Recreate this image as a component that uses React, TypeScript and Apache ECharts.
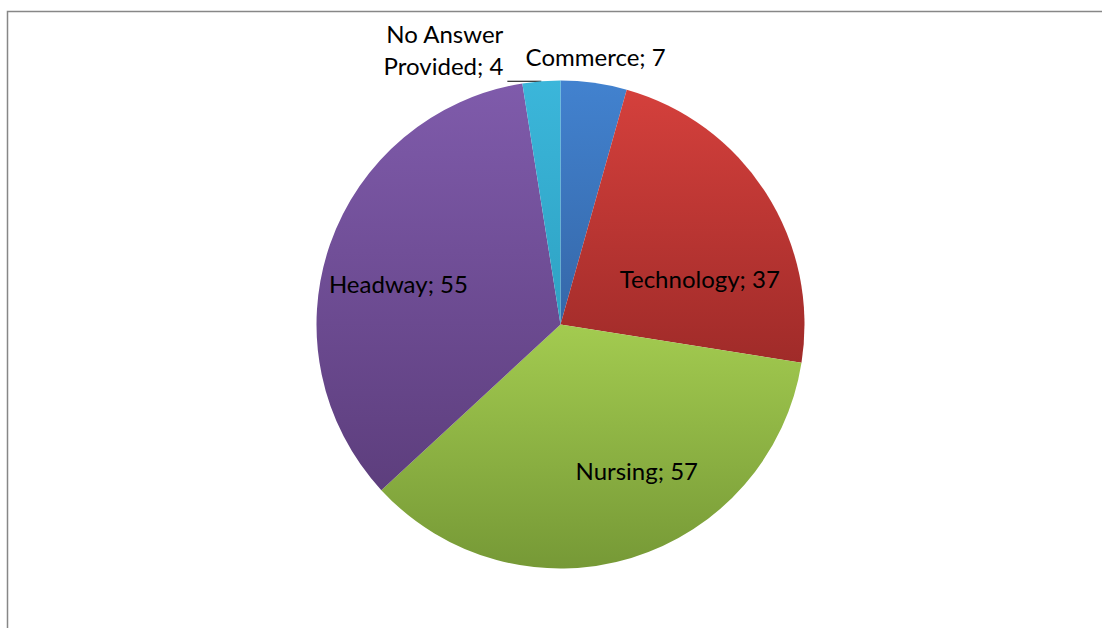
import React, { useEffect, useRef } from "react";
import * as echarts from "echarts";

const categories = ["Commerce", "Technology", "Nursing", "Headway", "No Answer Provided"];
const values = [7, 37, 57, 55, 4];
const topColors = ["#4282cf", "#d4403c", "#a3cb50", "#7f5bab", "#3bb6da"];
const bottomColors = ["#3567a8", "#a02b29", "#769936", "#5d3e7d", "#2ea2c3"];
const labelOffsets: [number, number][] = [[18, -144], [34, 21], [40, 26], [-44, 0], [0, 0]];

export default function App() {
  const ref = useRef<HTMLDivElement>(null);
  useEffect(() => {
    if (!ref.current) return;
    const chart = echarts.init(ref.current, undefined, { renderer: "svg" });
    const font = "Lato";
    const data = categories.map((name, i) => {
      const grad = new echarts.graphic.LinearGradient(0, 0, 0, 1, [
        { offset: 0, color: topColors[i] },
        { offset: 1, color: bottomColors[i] },
      ]);
      const isOutside = i === 4;
      return {
        name,
        value: values[i],
        itemStyle: { color: grad },
        label: isOutside
          ? {
              position: "outside",
              formatter: "No Answer\nProvided; {c}",
              align: "center",
              lineHeight: 32,
              distanceToLabelLine: 4,
            }
          : { position: "inside", offset: labelOffsets[i] },
        labelLine: isOutside
          ? { show: true, length: 0, length2: 34, lineStyle: { color: "#000", width: 1 } }
          : { show: false },
      };
    });
    chart.setOption({
      animation: false,
      backgroundColor: "#fff",
      graphic: [
        {
          type: "rect",
          shape: { x: 7.5, y: 11.5, width: 1200, height: 700 },
          style: { fill: "none", stroke: "#878787", lineWidth: 1.5 },
          silent: true,
        },
      ],
      series: [
        {
          type: "pie",
          center: [560.5, 324.5],
          radius: [0, 244],
          startAngle: 90,
          clockwise: true,
          avoidLabelOverlap: false,
          label: {
            show: true,
            formatter: "{b}; {c}",
            color: "#000",
            fontFamily: font,
            fontSize: 24,
          },
          labelLayout: (p: any) =>
            p.dataIndex === 4 ? { verticalAlign: "bottom" } : {},
          emphasis: { disabled: true },
          data,
        },
      ],
    });
    return () => chart.dispose();
  }, []);
  return (
    <div
      ref={ref}
      style={{ position: "fixed", left: 0, top: 0, width: 1102, height: 628 }}
    />
  );
}
